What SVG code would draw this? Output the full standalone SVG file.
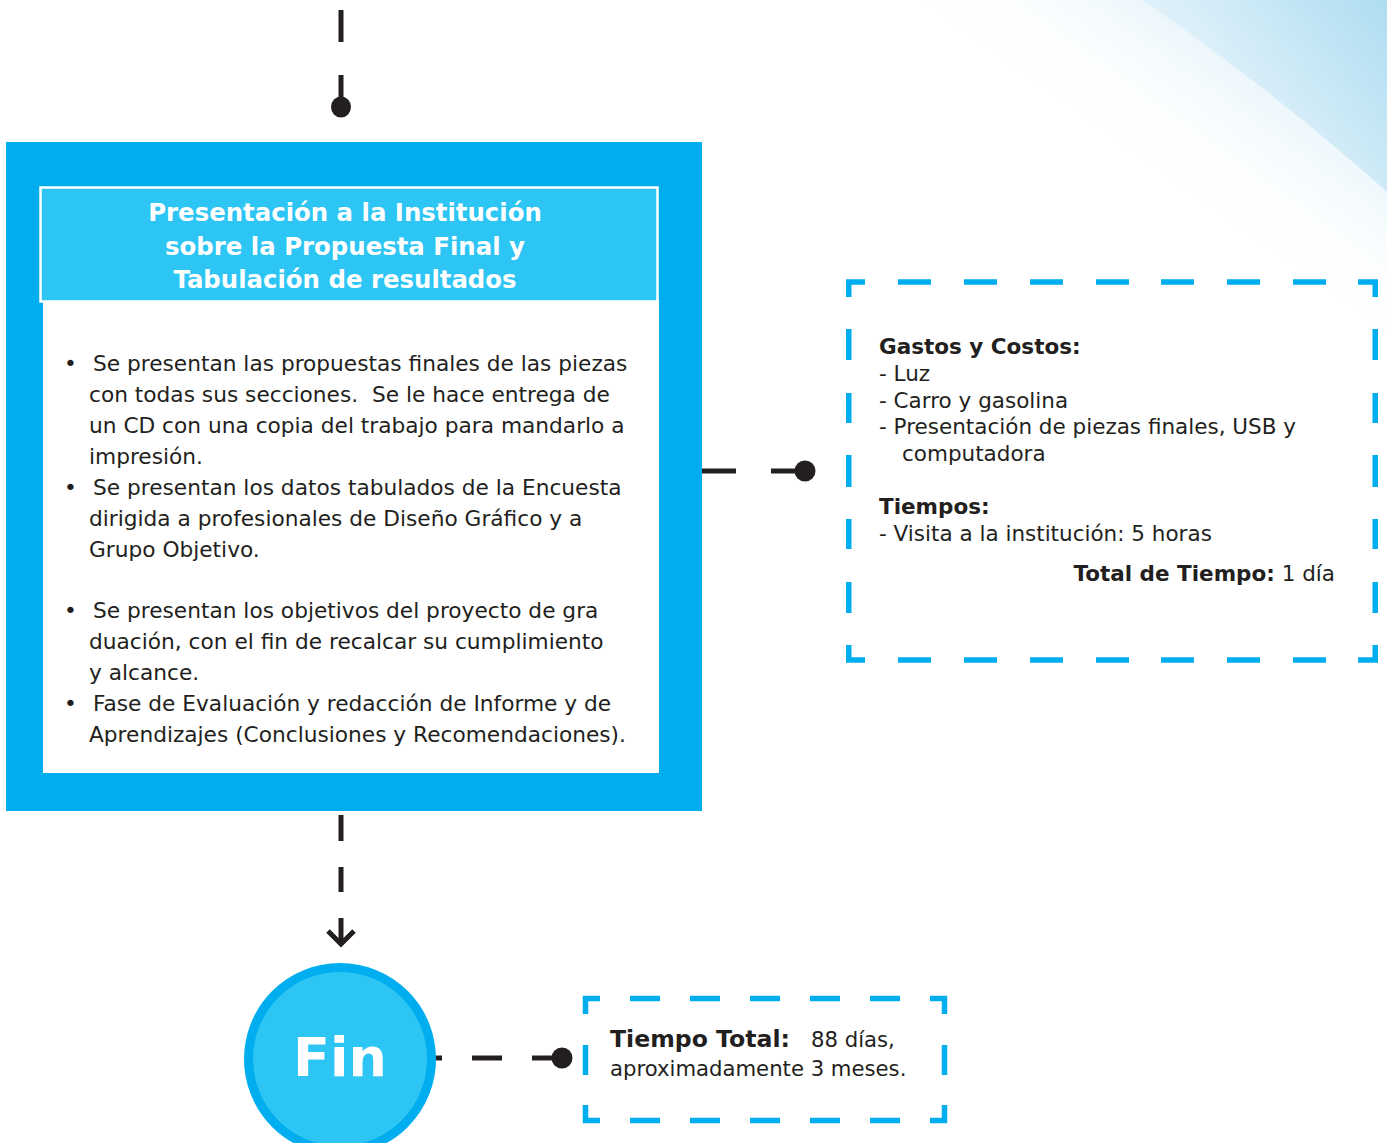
<svg xmlns="http://www.w3.org/2000/svg" width="1387" height="1143" viewBox="0 0 1387 1143">
<style>
.conn{stroke:#231F20;stroke-width:5;fill:none}
.dot{fill:#231F20}
.dash{stroke:#00AEEF;stroke-width:5.5;fill:none;stroke-linecap:butt}
.t{font-family:"DejaVu Sans","Verdana",sans-serif;fill:#231F20}
.b{font-weight:bold}
.title{font-family:"DejaVu Sans","Verdana",sans-serif;font-weight:bold;fill:#FFFFFF;font-size:24.4px;text-anchor:middle}
</style>
<defs>
<linearGradient id="gSoft" gradientUnits="userSpaceOnUse" x1="1387" y1="0" x2="1225" y2="225">
<stop offset="0" stop-color="#CBE9F6"/>
<stop offset="0.45" stop-color="#E6F4FB"/>
<stop offset="1" stop-color="#FFFFFF" stop-opacity="0"/>
</linearGradient>
<linearGradient id="gSharp" gradientUnits="userSpaceOnUse" x1="1387" y1="0" x2="1250" y2="110">
<stop offset="0" stop-color="#AEDDF1"/>
<stop offset="1" stop-color="#DDF0F9"/>
</linearGradient>
</defs>
<rect width="1387" height="1143" fill="#FFFFFF"/>
<g id="background">
<rect x="880" y="0" width="507" height="420" fill="url(#gSoft)"/>
<path d="M1143,0 C1225,58 1310,122 1387,192 L1387,0 Z" fill="url(#gSharp)"/>
</g>
<g id="connectors">
<line class="conn" x1="341" y1="10" x2="341" y2="42"/>
<line class="conn" x1="341" y1="75" x2="341" y2="100"/>
<ellipse class="dot" cx="341" cy="107" rx="10" ry="10.5"/>
<line class="conn" x1="690" y1="471" x2="736" y2="471"/>
<line class="conn" x1="771" y1="471" x2="800" y2="471"/>
<circle class="dot" cx="805" cy="471" r="10.5"/>
<line class="conn" x1="341" y1="815" x2="341" y2="841"/>
<line class="conn" x1="341" y1="867" x2="341" y2="892"/>
<line class="conn" x1="341" y1="918" x2="341" y2="943"/>
<polyline class="conn" points="328,931 341,944 354,931" stroke-width="4.5"/>
<line class="conn" x1="412" y1="1058" x2="442" y2="1058"/>
<line class="conn" x1="472" y1="1058" x2="502" y2="1058"/>
<line class="conn" x1="532" y1="1058" x2="556" y2="1058"/>
<circle class="dot" cx="562" cy="1058" r="10.5"/>
</g>
<g id="node-presentacion">
<rect x="6" y="142" width="696" height="669" fill="#00AEEF"/>
<rect x="43" y="300" width="616" height="473" fill="#FFFFFF"/>
<rect x="40.5" y="187.5" width="617" height="114" fill="#2DC5F4" stroke="#FFFFFF" stroke-width="2.5"/>
<text class="title"><tspan x="345" y="221">Presentación a la Institución</tspan><tspan x="345" y="255">sobre la Propuesta Final y</tspan><tspan x="345" y="288">Tabulación de resultados</tspan></text>
<text class="t" font-size="21.7">
<tspan x="64" y="371">•</tspan><tspan x="93" y="371">Se presentan las propuestas finales de las piezas</tspan>
<tspan x="89" y="402" style="white-space:pre">con todas sus secciones.  Se le hace entrega de</tspan>
<tspan x="89" y="433">un CD con una copia del trabajo para mandarlo a</tspan>
<tspan x="89" y="464">impresión.</tspan>
<tspan x="64" y="495">•</tspan><tspan x="93" y="495">Se presentan los datos tabulados de la Encuesta</tspan>
<tspan x="89" y="526">dirigida a profesionales de Diseño Gráfico y a</tspan>
<tspan x="89" y="557">Grupo Objetivo.</tspan>
<tspan x="64" y="618">•</tspan><tspan x="93" y="618">Se presentan los objetivos del proyecto de gra</tspan>
<tspan x="89" y="649">duación, con el fin de recalcar su cumplimiento</tspan>
<tspan x="89" y="680">y alcance.</tspan>
<tspan x="64" y="711">•</tspan><tspan x="93" y="711">Fase de Evaluación y redacción de Informe y de</tspan>
<tspan x="89" y="742">Aprendizajes (Conclusiones y Recomendaciones).</tspan>
</text>
</g>
<g id="node-gastos">
<path class="dash" d="M848.75,297 V282 H865 M898,282 H931 M964,282 H997 M1030,282 H1063 M1096,282 H1129 M1161,282 H1194 M1227,282 H1260 M1293,282 H1326 M1358,282 H1375.25 V297"/>
<path class="dash" d="M848.75,645 V660 H865 M898,660 H931 M964,660 H997 M1030,660 H1063 M1096,660 H1129 M1161,660 H1194 M1227,660 H1260 M1293,660 H1326 M1358,660 H1375.25 V645"/>
<path class="dash" d="M848.75,329 V360 M848.75,393 V423 M848.75,455 V487 M848.75,519 V549 M848.75,582 V613 M1375.25,329 V360 M1375.25,393 V423 M1375.25,455 V487 M1375.25,519 V549 M1375.25,582 V613"/>
<text class="t" font-size="21.5">
<tspan class="b" x="879" y="354">Gastos y Costos:</tspan>
<tspan x="879" y="381">- Luz</tspan>
<tspan x="879" y="408">- Carro y gasolina</tspan>
<tspan x="879" y="434">- Presentación de piezas finales, USB y</tspan>
<tspan x="902" y="461">computadora</tspan>
<tspan class="b" x="879" y="514">Tiempos:</tspan>
<tspan x="879" y="541">- Visita a la institución: 5 horas</tspan>
</text>
<text class="t" font-size="21.5" x="1335" y="581" text-anchor="end"><tspan class="b">Total de Tiempo:</tspan> 1 día</text>
</g>
<g id="node-fin">
<circle cx="340" cy="1059" r="91.5" fill="#2DC5F4" stroke="#00AEEF" stroke-width="9"/>
<text x="340" y="1076" text-anchor="middle" font-family="DejaVu Sans, Verdana, sans-serif" font-weight="bold" font-size="54" fill="#FFFFFF">Fin</text>
</g>
<g id="node-tiempo-total">
<path class="dash" d="M585.5,1014 V998.5 H600 M630,998.5 H660 M690,998.5 H720 M750,998.5 H780 M810,998.5 H840 M870,998.5 H900 M930,998.5 H944.5 V1014"/>
<path class="dash" d="M585.5,1105 V1120.5 H600 M630,1120.5 H660 M690,1120.5 H720 M750,1120.5 H780 M810,1120.5 H840 M870,1120.5 H900 M930,1120.5 H944.5 V1105"/>
<path class="dash" d="M585.5,1045 V1075 M944.5,1045 V1075"/>
<text class="t" font-size="21.2"><tspan class="b" x="610" y="1047" font-size="23.6">Tiempo Total:</tspan><tspan x="811" y="1047">88 días,</tspan><tspan x="610" y="1076">aproximadamente 3 meses.</tspan></text>
</g>
</svg>
